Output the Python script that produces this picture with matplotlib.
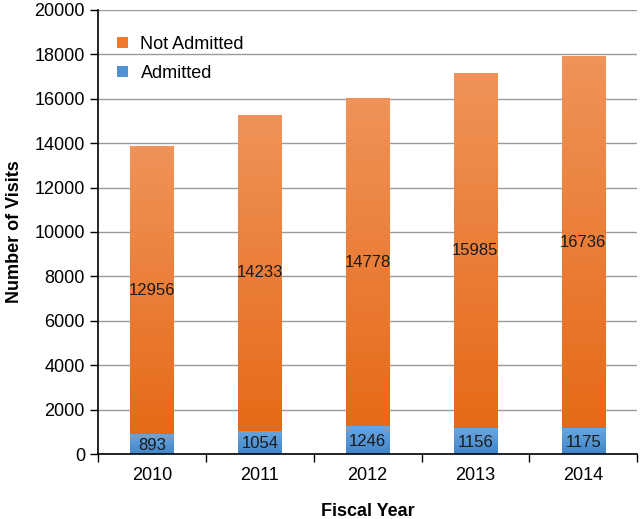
import numpy as np
import matplotlib.pyplot as plt
from matplotlib.colors import LinearSegmentedColormap
from matplotlib.patches import Patch

plt.rcParams['font.family'] = ['Liberation Sans', 'DejaVu Sans']

years = ["2010", "2011", "2012", "2013", "2014"]
admitted = [893, 1054, 1246, 1156, 1175]
not_admitted = [12956, 14233, 14778, 15985, 16736]

orange_cmap = LinearSegmentedColormap.from_list("o", ["#E56A17", "#F0935A"])
blue_cmap = LinearSegmentedColormap.from_list("b", ["#3F86CC", "#6AA6DE"])

fig = plt.figure(figsize=(6.41, 5.19), dpi=100)
ax = fig.add_axes([0.153, 0.125, 0.841, 0.856])

x = np.arange(len(years))
width = 0.4


def gradient_bars(bars, cmap):
    grad = np.linspace(0, 1, 256).reshape(-1, 1)
    for b in bars:
        bx, by = b.get_x(), b.get_y()
        bw, bh = b.get_width(), b.get_height()
        b.set_facecolor("none")
        im = ax.imshow(grad, cmap=cmap, aspect="auto", origin="lower",
                       extent=[bx, bx + bw, by, by + bh], zorder=2)
        im.set_clip_path(b)


bars_a = ax.bar(x, admitted, width, zorder=2, linewidth=0)
bars_n = ax.bar(x, not_admitted, width, bottom=admitted, zorder=2, linewidth=0)
gradient_bars(bars_a, blue_cmap)
gradient_bars(bars_n, orange_cmap)

for i in range(len(years)):
    ax.text(x[i], admitted[i] / 2 - 60, str(admitted[i]), ha="center", va="center",
            fontsize=12, color="#1a1a1a", zorder=3)
    ax.text(x[i], admitted[i] + not_admitted[i] / 2, str(not_admitted[i]),
            ha="center", va="center", fontsize=12, color="#1a1a1a", zorder=3)

ax.set_xlim(-0.5, len(years) - 0.5)
ax.set_ylim(0, 20000)
ax.set_yticks(np.arange(0, 20001, 2000))
ax.set_xticks(x)
ax.set_xticklabels(years)
ax.set_xticks(np.arange(-0.5, len(years), 1), minor=True)
ax.tick_params(axis="x", which="major", length=0, pad=9, labelsize=13)
ax.tick_params(axis="x", which="minor", length=6, width=1, direction="out")
ax.tick_params(axis="y", length=6, width=1, labelsize=13)

ax.yaxis.grid(True, color="#9a9a9a", linewidth=1)
ax.set_axisbelow(True)
for s in ["top", "right"]:
    ax.spines[s].set_visible(False)
ax.spines["left"].set_linewidth(1.2)
ax.spines["bottom"].set_linewidth(1.2)

ax.set_xlabel("Fiscal Year", fontsize=13, fontweight="bold", labelpad=14)
ax.set_ylabel("Number of Visits", fontsize=13, fontweight="bold", labelpad=8)

handles = [Patch(facecolor="#EC7A2E", label="Not Admitted"),
           Patch(facecolor="#4F93D6", label="Admitted")]
ax.legend(handles=handles, loc="upper left", bbox_to_anchor=(0.005, 0.978),
          frameon=False, fontsize=13, handlelength=0.6, handleheight=0.6,
          labelspacing=0.65, handletextpad=0.7)

fig.savefig("out.png", dpi=100)
